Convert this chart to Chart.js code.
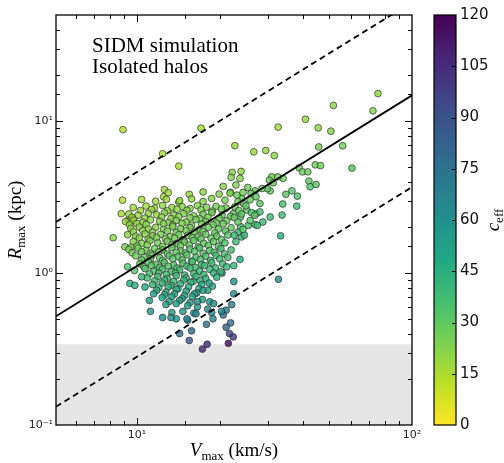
<!DOCTYPE html>
<html>
<head>
<meta charset="utf-8">
<script src="https://cdn.jsdelivr.net/npm/chart.js@4.4.0/dist/chart.umd.min.js"></script>
<style>
  html, body { margin: 0; padding: 0; background: #fff; overflow: hidden; }
  canvas { position: absolute; left: 0; top: 0; }
</style>
</head>
<body>
<canvas id="main" width="504" height="463"></canvas>
<canvas id="cbar" width="504" height="463"></canvas>
<script>
// ---- datos: [Vmax (km/s), Rmax (kpc), c_eff] ----
var xMin = 5.08, xMax = 100;
var yMin = 0.1, yMax = 50;
var grisLimite = 0.34;          // zona sombreada bajo Rmax = 0.34 kpc
var cbarMax = 120, cbarPaso = 15;

var lineaV = [5.08, 100];
var lineaMedia = [0.52, 14.8];
var lineaSup = [2.17, 60.7];
var lineaInf = [0.132, 3.68];

var halosDispersos = [
  [8.9, 8.8, 14], [17.1, 9.0, 16], [22.7, 6.9, 19], [12.4, 6.1, 14], [14.2, 5.06, 15],
  [22.2, 4.6, 21], [23.9, 4.67, 21], [22.0, 4.27, 22], [23.7, 4.2, 22], [8.87, 3.02, 15],
  [12.6, 3.54, 17], [12.5, 3.18, 17], [14.2, 2.93, 18], [8.77, 2.46, 17], [9.3, 2.23, 18],
  [21.9, 3.4, 23], [75.2, 15.2, 20], [51.8, 12.7, 21], [72.1, 11.7, 22], [32.6, 9.14, 18],
  [41.0, 10.3, 19], [45.6, 9.04, 21], [50.7, 8.6, 22], [45.8, 6.77, 25], [56.0, 6.89, 26],
  [60.5, 4.91, 33], [26.6, 6.28, 18], [29.4, 6.41, 19], [31.6, 5.94, 21], [38.9, 4.93, 26],
  [40.0, 4.64, 27], [41.8, 4.64, 28], [44.5, 5.16, 27], [46.5, 5.1, 27], [42.2, 4.03, 31],
  [42.6, 3.7, 33], [44.8, 3.83, 32], [36.6, 3.48, 32], [38.3, 3.21, 34], [38.1, 2.76, 38],
  [33.9, 2.85, 35], [33.7, 2.41, 38], [34.8, 3.3, 31], [30.9, 4.3, 26], [30.3, 4.09, 27],
  [31.3, 3.93, 28], [34.0, 4.2, 27], [32.5, 4.3, 26], [30.5, 3.48, 30], [29.8, 3.6, 29],
  [28.5, 3.6, 28], [26.9, 3.48, 28], [26.0, 3.34, 29], [27.1, 3.18, 30], [28.0, 2.87, 32],
  [27.1, 2.46, 35], [24.4, 2.87, 30], [25.1, 2.6, 32], [23.8, 2.34, 33], [22.4, 2.46, 31],
  [24.0, 3.1, 28], [23.1, 3.26, 27], [30.5, 2.34, 37], [28.0, 2.53, 35], [26.1, 2.5, 34],
  [28.7, 2.17, 38], [26.9, 2.09, 37], [27.4, 2.06, 38], [33.3, 1.76, 44], [32.7, 0.91, 62],
  [23.7, 1.23, 48], [20.4, 1.0, 52], [23.8, 2.02, 34], [24.0, 1.73, 38], [22.9, 1.61, 40],
  [25.4, 2.06, 36], [8.2, 1.71, 22], [9.04, 1.49, 25], [9.56, 1.49, 26], [9.25, 1.1, 32],
  [9.43, 2.21, 19], [9.7, 2.3, 19], [23.3, 1.86, 40], [24.6, 1.78, 41], [22.6, 1.78, 40]
];

var halosNube = [
  [13.0, 3.38, 18], [15.5, 3.30, 20], [17.4, 3.42, 21], [19.9, 3.31, 23], [20.6, 3.72, 22],
  [21.8, 3.36, 24], [24.3, 3.40, 26], [25.3, 3.66, 26], [22.9, 3.80, 23],
  [10.4, 3.05, 16], [11.7, 2.97, 18], [12.8, 3.06, 18], [14.3, 3.00, 20], [15.8, 3.08, 21],
  [17.4, 2.96, 22], [18.7, 3.10, 23], [20.9, 3.02, 25], [23.3, 2.95, 26], [25.8, 3.04, 28],
  [9.7, 2.70, 17], [10.8, 2.76, 18], [11.6, 2.68, 19], [12.4, 2.79, 20], [13.4, 2.70, 20],
  [14.6, 2.74, 21], [15.6, 2.66, 22], [16.6, 2.78, 23], [17.9, 2.71, 24], [19.4, 2.75, 25],
  [21.1, 2.68, 26], [22.7, 2.73, 27], [24.9, 2.77, 29],
  [10.3, 2.58, 18], [11.3, 2.62, 19], [12.9, 2.57, 20], [14.0, 2.63, 21], [15.2, 2.59, 22],
  [17.1, 2.61, 24], [18.8, 2.56, 25], [20.3, 2.64, 26], [23.5, 2.58, 28],
  [9.35, 2.45, 18], [10.1, 2.40, 19], [11.0, 2.47, 20], [11.8, 2.42, 20], [12.6, 2.49, 21],
  [13.6, 2.41, 22], [14.8, 2.46, 23], [16.1, 2.38, 24], [17.4, 2.44, 25], [18.7, 2.50, 26],
  [20.4, 2.41, 27], [21.9, 2.36, 28], [24.0, 2.45, 30], [26.8, 2.40, 31],
  [9.6, 2.33, 19], [10.7, 2.30, 20], [12.3, 2.34, 21], [13.3, 2.29, 22], [14.2, 2.35, 23],
  [15.6, 2.31, 24], [16.9, 2.28, 25], [18.1, 2.33, 26], [19.9, 2.30, 27], [22.6, 2.32, 29],
  [9.1, 2.18, 18], [9.75, 2.23, 19], [10.5, 2.16, 20], [11.2, 2.24, 21], [12.1, 2.19, 22],
  [13.0, 2.15, 23], [13.9, 2.22, 23], [15.1, 2.17, 24], [16.4, 2.25, 25], [17.8, 2.18, 26],
  [19.4, 2.14, 27], [21.2, 2.21, 28], [23.3, 2.17, 30], [25.8, 2.22, 32],
  [9.4, 2.08, 19], [10.0, 2.12, 20], [10.8, 2.09, 21], [12.5, 2.11, 22], [13.5, 2.07, 23],
  [14.6, 2.12, 24], [15.8, 2.06, 25], [17.2, 2.10, 26], [18.9, 2.08, 27], [20.6, 2.11, 29],
  [9.5, 1.97, 20], [10.2, 2.01, 21], [11.0, 1.95, 22], [11.7, 2.00, 22], [12.5, 1.94, 23],
  [13.5, 2.02, 24], [14.4, 1.96, 25], [15.6, 1.99, 26], [16.8, 1.93, 27], [18.2, 2.00, 28],
  [19.8, 1.95, 29], [22.0, 1.99, 31], [24.3, 1.94, 33],
  [9.7, 1.87, 21], [10.5, 1.90, 21], [11.4, 1.86, 22], [12.9, 1.89, 24], [13.9, 1.85, 25],
  [15.1, 1.90, 26], [16.2, 1.86, 27], [17.4, 1.88, 28], [19.2, 1.84, 29], [21.0, 1.89, 31],
  [9.25, 1.79, 21], [9.9, 1.75, 22], [10.7, 1.81, 22], [11.4, 1.76, 23], [12.2, 1.80, 24],
  [13.2, 1.74, 25], [14.2, 1.79, 26], [15.3, 1.77, 27], [16.6, 1.73, 28], [17.8, 1.80, 29],
  [19.5, 1.75, 30], [21.4, 1.78, 32],
  [10.2, 1.70, 22], [11.0, 1.67, 23], [11.8, 1.71, 24], [12.7, 1.68, 25], [13.7, 1.70, 26],
  [14.7, 1.66, 27], [15.9, 1.71, 28], [17.1, 1.68, 29], [18.6, 1.70, 30], [20.3, 1.66, 32],
  [9.7, 1.61, 22], [10.4, 1.57, 23], [11.15, 1.63, 24], [11.9, 1.58, 25], [12.9, 1.62, 26],
  [13.9, 1.56, 27], [14.9, 1.60, 28], [16.1, 1.64, 29], [17.5, 1.57, 30], [19.0, 1.61, 31],
  [20.9, 1.58, 33],
  [10.0, 1.51, 24], [10.9, 1.53, 24], [12.4, 1.50, 26], [13.4, 1.54, 27], [14.4, 1.51, 28],
  [15.5, 1.53, 29], [16.7, 1.49, 30], [18.2, 1.52, 31], [19.8, 1.50, 33],
  [9.35, 1.43, 24], [10.1, 1.46, 25], [10.8, 1.41, 26], [11.6, 1.45, 27], [12.4, 1.42, 28],
  [13.4, 1.47, 29], [14.4, 1.40, 30], [15.6, 1.44, 31], [16.9, 1.46, 32], [18.4, 1.41, 33],
  [20.2, 1.45, 35], [22.0, 1.42, 36],
  [9.6, 1.36, 26], [10.4, 1.38, 27], [11.2, 1.35, 27], [12.0, 1.38, 28], [12.9, 1.34, 29],
  [13.9, 1.37, 30], [15.0, 1.36, 31], [16.2, 1.39, 32], [17.4, 1.35, 33], [19.1, 1.37, 34],
  [20.8, 1.34, 36],
  [9.9, 1.30, 27], [10.6, 1.27, 28], [11.35, 1.31, 29], [12.1, 1.26, 30], [13.1, 1.30, 31],
  [14.1, 1.28, 32], [15.2, 1.32, 33], [16.4, 1.27, 34], [17.8, 1.29, 35], [19.4, 1.31, 36],
  [21.4, 1.27, 38],
  [10.4, 1.22, 29], [11.2, 1.24, 30], [12.4, 1.21, 31], [13.5, 1.24, 32], [14.6, 1.22, 33],
  [15.8, 1.20, 34], [17.0, 1.23, 35], [18.5, 1.21, 36], [20.0, 1.24, 37],
  [10.25, 1.15, 29], [11.0, 1.18, 30], [11.7, 1.14, 31], [12.6, 1.17, 32], [13.6, 1.13, 33],
  [14.7, 1.16, 34], [15.9, 1.19, 35], [17.2, 1.14, 36], [18.7, 1.17, 37], [20.5, 1.15, 38],
  [22.5, 1.12, 41],
  [10.6, 1.10, 31], [11.3, 1.12, 32], [12.1, 1.09, 33], [13.0, 1.11, 34], [14.0, 1.08, 35],
  [15.2, 1.11, 36], [16.3, 1.09, 37], [17.6, 1.12, 38], [19.3, 1.08, 40], [21.2, 1.10, 41],
  [9.8, 1.04, 32], [10.7, 1.07, 33], [11.5, 1.03, 34], [12.35, 1.06, 35], [13.3, 1.02, 36],
  [14.3, 1.05, 37], [15.6, 1.08, 38], [16.9, 1.03, 39], [18.4, 1.06, 40], [20.2, 1.02, 41],
  [11.1, 0.99, 34], [12.0, 1.00, 35], [12.8, 0.98, 36], [13.8, 1.00, 37], [14.9, 0.97, 38],
  [16.1, 0.99, 39], [17.5, 0.98, 40], [19.0, 1.00, 42],
  [10.9, 0.93, 36], [11.9, 0.95, 37], [12.9, 0.92, 38], [13.9, 0.96, 39], [15.1, 0.93, 40],
  [16.4, 0.95, 41], [17.8, 0.92, 42], [19.5, 0.94, 44],
  [11.6, 0.89, 38], [12.6, 0.90, 39], [13.6, 0.88, 40], [14.8, 0.90, 41], [16.0, 0.88, 42],
  [17.0, 0.89, 43],
  [11.4, 0.84, 40], [12.35, 0.86, 41], [13.3, 0.83, 42], [14.4, 0.85, 43], [15.7, 0.87, 44],
  [17.2, 0.84, 45], [18.8, 0.82, 47],
  [12.0, 0.80, 42], [13.0, 0.81, 43], [14.1, 0.79, 44], [15.4, 0.81, 45], [16.8, 0.79, 46],
  [11.8, 0.77, 44], [12.75, 0.75, 45], [13.9, 0.78, 46], [15.1, 0.76, 47], [16.5, 0.74, 48],
  [18.1, 0.77, 50],
  [12.6, 0.72, 46], [13.7, 0.73, 47], [14.9, 0.71, 48], [16.2, 0.73, 49],
  [12.35, 0.69, 48], [13.4, 0.70, 49], [14.6, 0.68, 50], [15.9, 0.70, 51], [17.3, 0.67, 52],
  [13.1, 0.65, 50], [14.3, 0.66, 51], [15.6, 0.64, 52],
  [12.75, 0.62, 52], [13.9, 0.63, 53], [15.3, 0.61, 54], [16.6, 0.60, 56],
  [13.4, 0.55, 56], [14.7, 0.56, 57], [16.1, 0.545, 58],
  [13.9, 0.50, 58], [15.3, 0.49, 60]
];

var halosBajos = [
  [22.5, 0.88, 60], [22.5, 0.73, 66], [22.1, 0.62, 70], [21.1, 0.57, 68], [20.6, 0.53, 72],
  [21.9, 0.47, 78], [21.1, 0.44, 82], [21.7, 0.40, 95], [22.4, 0.38, 100], [21.5, 0.345, 118],
  [18.0, 0.34, 104], [17.3, 0.316, 108], [15.5, 0.36, 88], [17.9, 0.46, 75], [15.8, 0.417, 80],
  [14.3, 0.40, 78], [16.4, 0.54, 65], [15.2, 0.50, 68], [12.4, 0.51, 62], [13.3, 0.51, 62],
  [11.2, 0.56, 58], [11.1, 0.66, 55], [9.43, 0.855, 45], [9.83, 0.83, 45], [10.7, 0.81, 48],
  [10.4, 0.946, 42], [11.5, 0.73, 52], [18.4, 0.647, 60], [19.0, 0.63, 62], [18.1, 0.58, 62],
  [18.7, 0.55, 65], [18.9, 0.50, 66], [20.3, 0.56, 66], [16.6, 0.65, 60], [17.4, 0.77, 55],
  [18.3, 0.86, 55]
];

// ---- colores viridis (invertido: amarillo = 0, morado = 120) ----
var viridisStops = ["#440154", "#482475", "#414487", "#355f8d", "#2a788e", "#21918c",
                    "#22a884", "#44bf70", "#7ad151", "#bddf26", "#fde725"];

function hexToRgb(h) {
  return [parseInt(h.slice(1, 3), 16), parseInt(h.slice(3, 5), 16), parseInt(h.slice(5, 7), 16)];
}
function viridis(t) {
  t = Math.min(1, Math.max(0, t));
  var n = viridisStops.length - 1;
  var i = Math.min(n - 1, Math.floor(t * n));
  var f = t * n - i;
  var a = hexToRgb(viridisStops[i]), b = hexToRgb(viridisStops[i + 1]);
  return a.map(function (v, k) { return Math.round(v + (b[k] - v) * f); });
}
function colorCeff(c, alpha) {
  var rgb = viridis(1 - c / cbarMax);
  return "rgba(" + rgb[0] + "," + rgb[1] + "," + rgb[2] + "," + alpha + ")";
}

function etiquetaPot(v) {
  var e = Math.round(Math.log10(v));
  if (Math.abs(Math.log10(v) - e) > 1e-9) return "";
  var sup = { "-1": "10\u207B\u00B9", "0": "10\u2070", "1": "10\u00B9", "2": "10\u00B2" };
  return sup[String(e)] || "";
}
function esPot(v) {
  return Math.abs(Math.log10(v) - Math.round(Math.log10(v))) < 1e-9;
}

// texto con cursiva y subindice (estilo mathtext)
function textoRico(ctx, partes, x, y, rot) {
  ctx.save();
  ctx.translate(x, y);
  if (rot) ctx.rotate(rot);
  ctx.textAlign = "left";
  ctx.textBaseline = "alphabetic";
  ctx.fillStyle = "#000";
  var w = 0;
  partes.forEach(function (p) { ctx.font = p.font; w += ctx.measureText(p.t).width; });
  var cx = -w / 2;
  partes.forEach(function (p) {
    ctx.font = p.font;
    ctx.fillText(p.t, cx, p.dy || 0);
    cx += ctx.measureText(p.t).width;
  });
  ctx.restore();
}

var serif = '"Liberation Serif", "DejaVu Serif", serif';
var fItal = "italic 19px " + serif;
var fNorm = "19px " + serif;
var fSub = "13px " + serif;

var todos = halosDispersos.concat(halosNube, halosBajos).map(function (h) {
  return { x: h[0], y: h[1], c: h[2] };
});

function linea(valores, dash) {
  return {
    type: "scatter",
    showLine: true,
    data: lineaV.map(function (v, i) { return { x: v, y: valores[i] }; }),
    borderColor: "#000",
    borderWidth: 1.8,
    borderDash: dash,
    pointRadius: 0,
    order: 0
  };
}

var marcoPlugin = {
  id: "marco",
  beforeDatasetsDraw: function (chart) {
    var ctx = chart.ctx, a = chart.chartArea, ys = chart.scales.y;
    var yg = ys.getPixelForValue(grisLimite);
    ctx.save();
    ctx.fillStyle = "#e6e6e6";
    ctx.fillRect(a.left, yg, a.right - a.left, a.bottom - yg);
    ctx.restore();
  },
  afterDatasetsDraw: function (chart) {
    var ctx = chart.ctx, a = chart.chartArea;
    var xs = chart.scales.x, ys = chart.scales.y;
    ctx.save();
    ctx.strokeStyle = "#000";
    ctx.lineWidth = 1;
    ctx.beginPath();
    xs.ticks.forEach(function (t) {
      var px = Math.round(xs.getPixelForValue(t.value)) + 0.5;
      if (px < a.left + 1 || px > a.right - 1) return;
      var l = esPot(t.value) ? 7 : 4;
      ctx.moveTo(px, a.bottom); ctx.lineTo(px, a.bottom - l);
      ctx.moveTo(px, a.top); ctx.lineTo(px, a.top + l);
    });
    ys.ticks.forEach(function (t) {
      var py = Math.round(ys.getPixelForValue(t.value)) + 0.5;
      if (py < a.top + 1 || py > a.bottom - 1) return;
      var l = esPot(t.value) ? 7 : 4;
      ctx.moveTo(a.left, py); ctx.lineTo(a.left + l, py);
      ctx.moveTo(a.right, py); ctx.lineTo(a.right - l, py);
    });
    ctx.stroke();
    ctx.lineWidth = 1.3;
    ctx.strokeRect(a.left, a.top, a.right - a.left, a.bottom - a.top);

    ctx.fillStyle = "#000";
    ctx.font = "21px " + serif;
    ctx.textAlign = "left";
    ctx.textBaseline = "alphabetic";
    ctx.fillText("SIDM simulation", 92, 52);
    ctx.fillText("Isolated halos", 92, 73);
    ctx.restore();

    textoRico(ctx, [
      { t: "V", font: fItal },
      { t: "max", font: fSub, dy: 4 },
      { t: " (km/s)", font: fNorm }
    ], (a.left + a.right) / 2, 456, 0);
    textoRico(ctx, [
      { t: "R", font: fItal },
      { t: "max", font: fSub, dy: 4 },
      { t: " (kpc)", font: fNorm }
    ], 21, (a.top + a.bottom) / 2, -Math.PI / 2);
  }
};

var fuenteTicks = { family: "DejaVu Sans", size: 11 };

new Chart(document.getElementById("main"), {
  type: "scatter",
  data: {
    datasets: [
      linea(lineaMedia, []),
      linea(lineaSup, [6, 4]),
      linea(lineaInf, [6, 4]),
      {
        data: todos,
        backgroundColor: todos.map(function (p) { return colorCeff(p.c, 0.82); }),
        borderColor: "rgba(45,45,45,0.85)",
        borderWidth: 0.8,
        pointRadius: 3.4,
        order: 1
      }
    ]
  },
  options: {
    responsive: false,
    animation: false,
    layout: { padding: { left: 0, top: 15, right: 92, bottom: 0 } },
    plugins: { legend: { display: false }, tooltip: { enabled: false } },
    scales: {
      x: {
        type: "logarithmic",
        min: xMin,
        max: xMax,
        grid: { display: false, drawTicks: false },
        border: { display: false },
        ticks: { autoSkip: false, maxRotation: 0, padding: 4, color: "#222", font: fuenteTicks, callback: etiquetaPot },
        afterFit: function (s) { s.height = 38; }
      },
      y: {
        type: "logarithmic",
        min: yMin,
        max: yMax,
        grid: { display: false, drawTicks: false },
        border: { display: false },
        ticks: { autoSkip: false, padding: 3, color: "#222", font: fuenteTicks, callback: etiquetaPot },
        afterFit: function (s) { s.width = 56; }
      }
    }
  },
  plugins: [marcoPlugin]
});

// ---- barra de color ----
var barraPlugin = {
  id: "barra",
  beforeDatasetsDraw: function (chart) {
    var ctx = chart.ctx, a = chart.chartArea, ys = chart.scales.y;
    var g = ctx.createLinearGradient(0, a.bottom, 0, a.top);
    for (var i = 0; i <= 40; i++) {
      var rgb = viridis(1 - i / 40);
      g.addColorStop(i / 40, "rgb(" + rgb[0] + "," + rgb[1] + "," + rgb[2] + ")");
    }
    ctx.save();
    ctx.fillStyle = g;
    ctx.fillRect(a.left, a.top, a.right - a.left, a.bottom - a.top);
    ctx.strokeStyle = "#000";
    ctx.lineWidth = 1;
    ctx.beginPath();
    ys.ticks.forEach(function (t) {
      var py = Math.round(ys.getPixelForValue(t.value)) + 0.5;
      if (py < a.top + 1 || py > a.bottom - 1) return;
      ctx.moveTo(a.right, py); ctx.lineTo(a.right - 4, py);
    });
    ctx.stroke();
    ctx.lineWidth = 1.2;
    ctx.strokeRect(a.left, a.top, a.right - a.left, a.bottom - a.top);
    ctx.restore();

    textoRico(ctx, [
      { t: "c", font: fItal },
      { t: "eff", font: fSub, dy: 4 }
    ], 499, (a.top + a.bottom) / 2, -Math.PI / 2);
  }
};

new Chart(document.getElementById("cbar"), {
  type: "scatter",
  data: { datasets: [] },
  options: {
    responsive: false,
    animation: false,
    layout: { padding: { left: 434, top: 15, right: 0, bottom: 38 } },
    plugins: { legend: { display: false }, tooltip: { enabled: false } },
    scales: {
      x: { display: false, min: 0, max: 1 },
      y: {
        position: "right",
        min: 0,
        max: cbarMax,
        grid: { display: false, drawTicks: false },
        border: { display: false },
        ticks: { stepSize: cbarPaso, padding: 4, color: "#111", font: { family: "DejaVu Sans", size: 15 } },
        afterFit: function (s) { s.width = 48; }
      }
    }
  },
  plugins: [barraPlugin]
});
</script>
</body>
</html>
